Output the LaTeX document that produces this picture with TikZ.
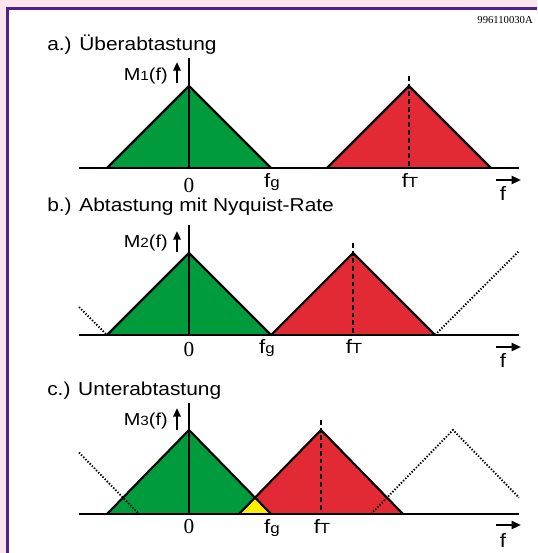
\documentclass[tikz,border=0pt]{standalone}
\usepackage{fontspec}
\setmainfont{Liberation Sans}[FakeStretch=1.12]
\newfontfamily\numfont{Liberation Serif}
\newfontfamily\labfont{Liberation Sans}[FakeStretch=1.15]
\usetikzlibrary{arrows.meta,calc}
\definecolor{bgpink}{RGB}{252,228,236}
\definecolor{framepurple}{RGB}{78,34,140}
\definecolor{tgreen}{RGB}{0,155,60}
\definecolor{tred}{RGB}{225,42,52}
\definecolor{tyellow}{RGB}{255,238,0}
\tikzset{
  edge/.style={line width=1.6pt, line join=miter},
  baseln/.style={line width=1.9pt},
  axisln/.style={line width=1.9pt},
  dashln/.style={line width=1.6pt, dash pattern=on 3.6pt off 2.2pt},
  dotln/.style={line width=1.4pt, dash pattern=on 1pt off 1.3pt},
  ttl/.style={anchor=base west, inner sep=0pt, font=\fontsize{14}{16}\selectfont},
  mlab/.style={anchor=base east, inner sep=0pt, font=\labfont\fontsize{13}{15}\selectfont},
  zlab/.style={anchor=base, inner sep=0pt, font=\numfont\fontsize{16}{18}\selectfont},
  flab/.style={anchor=base, inner sep=0pt, font=\labfont\fontsize{14.5}{16}\selectfont},
  uparr/.style={line width=1.6pt, -{Triangle[length=6.5pt,width=5.5pt]}},
  farr/.style={line width=1.6pt, -{Triangle[length=7pt,width=6pt]}},
}
\newcommand{\sub}[1]{{\fontsize{10}{11}\selectfont #1}}
\newcommand{\fsub}[1]{{\fontsize{11}{12}\selectfont #1}}
\begin{document}
\begin{tikzpicture}[x=0.75pt,y=-0.75pt]
\useasboundingbox (0,0) rectangle (537,553);
% frame
\fill[bgpink] (0,0) rectangle (537,553);
\fill[white] (8,9) rectangle (537,553);
\draw[framepurple, line width=2.4pt] (7.5,553) -- (7.5,8.5) -- (537,8.5);
\node[anchor=base east, inner sep=0pt, font=\numfont\fontsize{8}{9}\selectfont] (code) at (533,23) {996110030A};

% ===== panel a =====
\node[ttl] (ta) at (47,50) {a.) Überabtastung};
\coordinate (agl) at (107,168); \coordinate (agt) at (189,86); \coordinate (agr) at (271,168);
\coordinate (arl) at (327,168); \coordinate (art) at (409,86); \coordinate (arr) at (491,168);
\fill[tgreen] (agl) -- (agt) -- (agr) -- cycle;
\fill[tred] (arl) -- (art) -- (arr) -- cycle;
\draw[edge] (agl) -- (agt) -- (agr);
\draw[edge] (arl) -- (art) -- (arr);
\coordinate (abl) at (79,168); \coordinate (abr) at (519,168);
\draw[baseln] (abl) -- (abr);
\coordinate (aax) at (189,58); \coordinate (aa0) at (189,168);
\draw[axisln] (aa0) -- (aax);
\coordinate (adt) at (409,76); \coordinate (adb) at (409,168);
\draw[dashln] (adt) -- (adb);
\node[mlab] (ma) at (168,80) {M\sub{1}(f)};
\coordinate (aus) at (177,83); \coordinate (aue) at (177,62);
\draw[uparr] (aus) -- (aue);
\node[zlab] (za) at (189,192) {0};
\node[flab] (fga) at (272,187) {f\fsub{g}};
\node[flab] (fta) at (410,187) {f\fsub{T}};
\coordinate (afs) at (496,180); \coordinate (afe) at (521,180);
\draw[farr] (afs) -- (afe);
\node[flab] (fa) at (503,200) {f};

% ===== panel b =====
\node[ttl] (tb) at (47,211) {b.) Abtastung mit Nyquist-Rate};
\coordinate (bgl) at (107,335); \coordinate (bgt) at (189,253); \coordinate (bgr) at (271,335);
\coordinate (brl) at (271,335); \coordinate (brt) at (353,253); \coordinate (brr) at (435,335);
\fill[tgreen] (bgl) -- (bgt) -- (bgr) -- cycle;
\fill[tred] (brl) -- (brt) -- (brr) -- cycle;
\draw[edge] (bgl) -- (bgt) -- (bgr);
\draw[edge] (brl) -- (brt) -- (brr);
\coordinate (bdl) at (79,307); \coordinate (bdr) at (519,251);
\draw[dotln] (bdl) -- (bgl);
\draw[dotln] (brr) -- (bdr);
\coordinate (bbl) at (79,335); \coordinate (bbr) at (519,335);
\draw[baseln] (bbl) -- (bbr);
\coordinate (bax) at (189,225); \coordinate (ba0) at (189,335);
\draw[axisln] (ba0) -- (bax);
\coordinate (bdt) at (353,243); \coordinate (bdb) at (353,335);
\draw[dashln] (bdt) -- (bdb);
\node[mlab] (mb) at (168,247) {M\sub{2}(f)};
\coordinate (bus) at (177,252); \coordinate (bue) at (177,231);
\draw[uparr] (bus) -- (bue);
\node[zlab] (zb) at (189,356) {0};
\node[flab] (fgb) at (267,353) {f\fsub{g}};
\node[flab] (ftb) at (354,353) {f\fsub{T}};
\coordinate (bfs) at (496,347); \coordinate (bfe) at (521,347);
\draw[farr] (bfs) -- (bfe);
\node[flab] (fb) at (503,367) {f};

% ===== panel c =====
\node[ttl] (tc) at (47,395) {c.) Unterabtastung};
\coordinate (cgl) at (107,514); \coordinate (cgt) at (189,430); \coordinate (cgr) at (271,514);
\coordinate (crl) at (239,514); \coordinate (crt) at (321,430); \coordinate (crr) at (403,514);
\coordinate (cx) at (intersection of cgt--cgr and crl--crt);
\fill[tgreen] (cgl) -- (cgt) -- (cgr) -- cycle;
\fill[tred] (crl) -- (crt) -- (crr) -- cycle;
\fill[tyellow] (crl) -- (cx) -- (cgr) -- cycle;
\draw[edge] (cgl) -- (cgt) -- (cgr);
\draw[edge] (crl) -- (crt) -- (crr);
\coordinate (cdl) at (79,452.5); \coordinate (cdlb) at (139,514);
\coordinate (cdrl) at (371,514); \coordinate (cdrt) at (453,430); \coordinate (cdrr) at (519,497.6);
\draw[dotln] (cdl) -- (cdlb);
\draw[dotln] (cdrl) -- (cdrt) -- (cdrr);
\coordinate (cbl) at (79,514); \coordinate (cbr) at (519,514);
\draw[baseln] (cbl) -- (cbr);
\coordinate (cax) at (189,403); \coordinate (ca0) at (189,514);
\draw[axisln] (ca0) -- (cax);
\coordinate (cdt) at (321,420); \coordinate (cdb) at (321,514);
\draw[dashln] (cdt) -- (cdb);
\node[mlab] (mc) at (168,425) {M\sub{3}(f)};
\coordinate (cus) at (177,430); \coordinate (cue) at (177,408);
\draw[uparr] (cus) -- (cue);
\node[zlab] (zc) at (189,533) {0};
\node[flab] (fgc) at (272,533) {f\fsub{g}};
\node[flab] (ftc) at (322,533) {f\fsub{T}};
\coordinate (cfs) at (496,525); \coordinate (cfe) at (521,525);
\draw[farr] (cfs) -- (cfe);
\node[flab] (fc) at (503,547) {f};
\end{tikzpicture}
\end{document}
